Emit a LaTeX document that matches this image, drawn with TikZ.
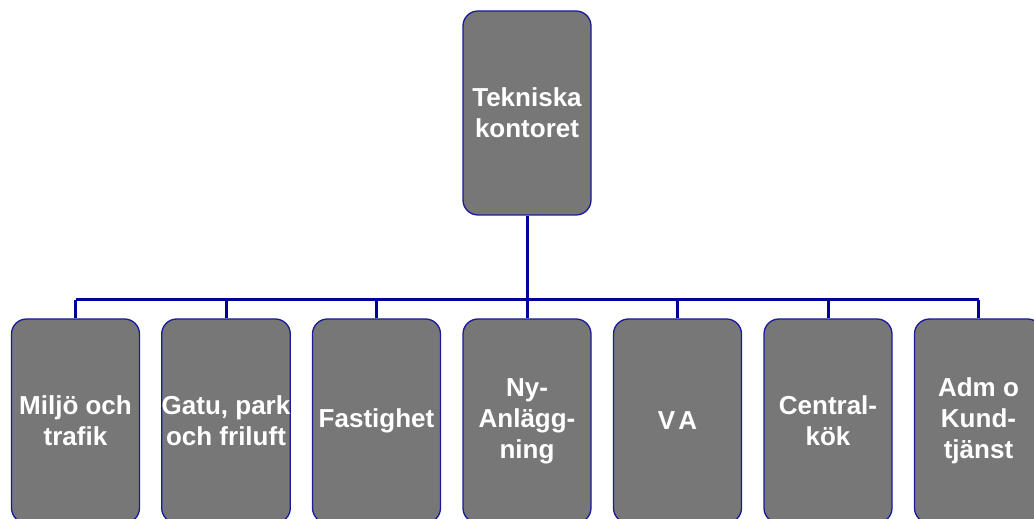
\documentclass[tikz,border=0pt]{standalone}
\usepackage{fontspec}
\setmainfont{Liberation Sans}
\begin{document}
\begin{tikzpicture}[x=1pt,y=1pt,
  unit/.style={draw=boxblue, line width=1.3pt, fill=boxgray, rounded corners=15pt,
    minimum width=128pt, minimum height=204pt, inner sep=0pt, align=center,
    text=white, font=\fontsize{26}{31}\selectfont\bfseries},
  link/.style={draw=linkblue, line width=3pt}]
\definecolor{boxgray}{HTML}{777777}
\definecolor{boxblue}{HTML}{1A1A99}
\definecolor{linkblue}{HTML}{000099}
\useasboundingbox (0,0) rectangle (1034,519);
\clip (0,0) rectangle (1034,519);

% head office
\node[unit] (top) at (527,406) {Tekniska\\kontoret};

% departments
\node[unit] (b1) at (75.5,98)  {Miljö och\\trafik};
\node[unit] (b2) at (226,98)   {Gatu, park\\och friluft};
\node[unit] (b3) at (376.5,98) {Fastighet};
\node[unit] (b4) at (527,98)   {Ny-\\Anlägg-\\ning};
\node[unit] (b5) at (677.5,98) {V\kern3pt A};
\node[unit] (b6) at (828,98)   {Central-\\kök};
\node[unit] (b7) at (978.5,98) {Adm o\\Kund-\\tjänst};

% organisation bus
\coordinate (bus) at (527,219);
\draw[link] (top.south) -- (bus);
\draw[link] (b1.north |- bus) -- (b7.north |- bus);
\foreach \n in {b1,b2,b3,b4,b5,b6,b7}
  \draw[link] (\n.north) -- (\n.north |- bus);
\end{tikzpicture}
\end{document}
